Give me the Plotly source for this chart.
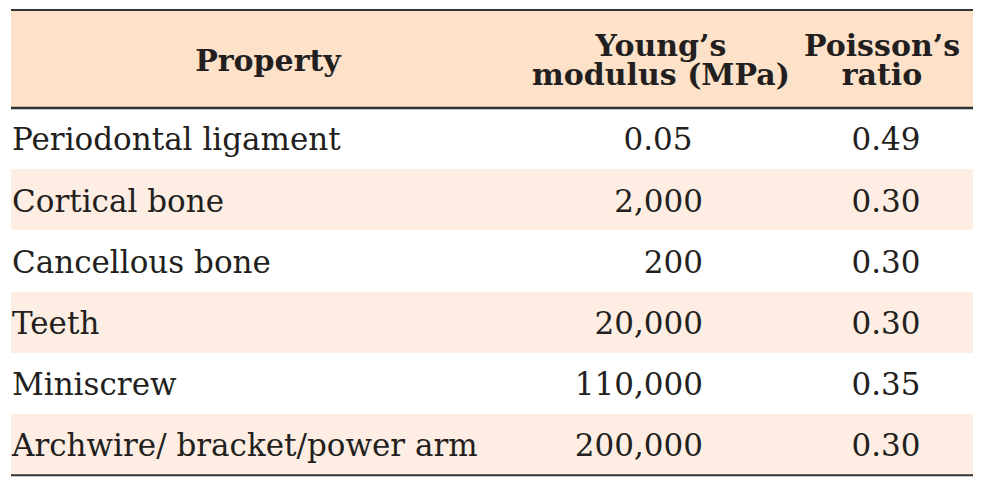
import plotly.graph_objects as go

# ---- data ----
header = ["Property", "Young’s<br>modulus (MPa)", "Poisson’s<br>ratio"]
properties = ["Periodontal ligament", "Cortical bone", "Cancellous bone",
              "Teeth", "Miniscrew", "Archwire/ bracket/power arm"]
youngs_modulus = ["0.05", "2,000", "200", "20,000", "110,000", "200,000"]
poisson_ratio = ["0.49", "0.30", "0.30", "0.30", "0.35", "0.30"]

# ---- styling / layout constants ----
PAGE_W, PAGE_H = 982, 483
OFF = 8                    # default body margin of the page
W, H = PAGE_W - OFF, PAGE_H - OFF
LEFT, RIGHT = 11, 973
ROW_TOP_PX = 108           # page pixel y where data rows start
ROW_H = 61.2               # pixel height of a data row
HEAD_TOP_PX = 10
FONT = "DejaVu Serif"
TXT = "#231f20"
HEAD_FILL = "#fde1c9"
STRIPE = "#fdede2"
RULE = "#333333"
FS = 31
HFS = 30
TEXT_DY = 4 / ROW_H        # small downward nudge of text within its row

n = len(properties)
# y axis in "row units": row i spans [i, i+1]
y_top = -(ROW_TOP_PX - OFF) / ROW_H
y_bot = (PAGE_H - ROW_TOP_PX) / ROW_H
head_top = -(ROW_TOP_PX - HEAD_TOP_PX) / ROW_H

col1_x = 12
col2_center, col2_right = 658, 703
col3_center = 886
head_x = [268, 661, 882]

fig = go.Figure()

# row fills (header + stripes)
fig.add_trace(go.Bar(
    orientation="h", y=[head_top / 2], x=[RIGHT - LEFT], base=LEFT,
    width=[-head_top], marker=dict(color=HEAD_FILL, line=dict(width=0)),
    hoverinfo="skip", showlegend=False))
fig.add_trace(go.Bar(
    orientation="h", y=[i + 0.5 for i in range(n)], x=[RIGHT - LEFT] * n, base=LEFT,
    width=1, marker=dict(color=[STRIPE if i % 2 else "rgba(0,0,0,0)" for i in range(n)],
                         line=dict(width=0)),
    hoverinfo="skip", showlegend=False))

rows_y = [i + 0.5 + TEXT_DY for i in range(n)]
font = dict(family=FONT, size=FS, color=TXT)

fig.add_trace(go.Scatter(x=[col1_x] * n, y=rows_y, text=properties, mode="text",
                         textposition="middle right", textfont=font,
                         hoverinfo="skip", showlegend=False))
# Young's modulus: decimals centred, integers right-aligned
c2x = [col2_center if "." in v else col2_right for v in youngs_modulus]
c2pos = ["middle center" if "." in v else "middle left" for v in youngs_modulus]
fig.add_trace(go.Scatter(x=c2x, y=rows_y, text=youngs_modulus, mode="text",
                         textposition=c2pos, textfont=font,
                         hoverinfo="skip", showlegend=False))
fig.add_trace(go.Scatter(x=[col3_center] * n, y=rows_y, text=poisson_ratio, mode="text",
                         textposition="middle center", textfont=font,
                         hoverinfo="skip", showlegend=False))

# header text (tight leading, lines placed individually)
LINE_GAP = 29.5 / ROW_H
head_mid = head_top / 2 + TEXT_DY
for hx, label in zip(head_x, header):
    lines = label.split("<br>")
    k = len(lines)
    for j, ln in enumerate(lines):
        yy = head_mid + (j - (k - 1) / 2) * LINE_GAP
        fig.add_trace(go.Scatter(x=[hx], y=[yy], text=[f"<b>{ln}</b>"], mode="text",
                                 textposition="middle center",
                                 textfont=dict(family=FONT, size=HFS, color=TXT),
                                 hoverinfo="skip", showlegend=False))

# horizontal rules
for yy, w in [(head_top, 2), (0, 2.5), (n, 2)]:
    fig.add_shape(type="line", xref="x", yref="y", x0=LEFT, x1=RIGHT, y0=yy, y1=yy,
                  line=dict(color=RULE, width=w))

fig.update_layout(
    width=W, height=H, margin=dict(l=0, r=0, t=0, b=0),
    paper_bgcolor="white", plot_bgcolor="white", barmode="overlay", bargap=0,
    xaxis=dict(range=[OFF, PAGE_W], visible=False, fixedrange=True),
    yaxis=dict(range=[y_bot, y_top], visible=False, fixedrange=True),
)

fig.write_html("out.html")
